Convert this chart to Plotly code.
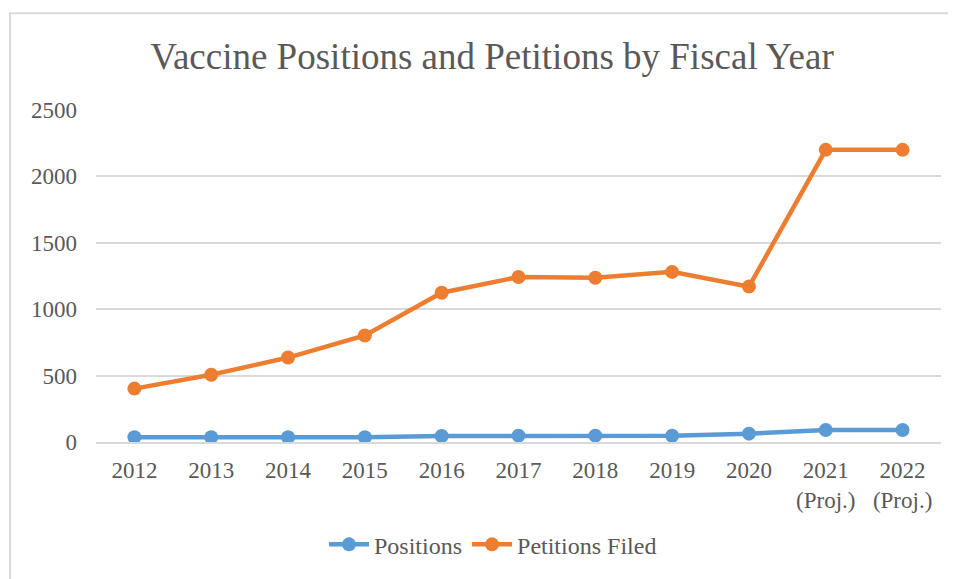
import plotly.graph_objects as go

categories = ["2012", "2013", "2014", "2015", "2016", "2017", "2018", "2019", "2020",
              "2021<br>(Proj.)", "2022<br>(Proj.)"]
positions = [36, 36, 36, 36, 45, 48, 48, 47, 63, 90, 90]
petitions = [402, 506, 636, 802, 1124, 1243, 1237, 1281, 1170, 2200, 2200]
y_ticks = [0, 500, 1000, 1500, 2000, 2500]

FONT = "Liberation Serif, Times New Roman, serif"
TXT = "#595959"

# page has an 8px body margin; the figure is sized/offset to compensate
W, H = 948, 571
L, R, T, B = 88, 15, 102, 133
PW, PH = W - L - R, H - T - B

fig = go.Figure()
fig.add_trace(go.Scatter(x=categories, y=positions, name="Positions", mode="lines+markers",
                         line=dict(color="#5B9BD5", width=4.5),
                         marker=dict(color="#5B9BD5", size=14)))
fig.add_trace(go.Scatter(x=categories, y=petitions, name="Petitions Filed", mode="lines+markers",
                         line=dict(color="#ED7D31", width=4.5),
                         marker=dict(color="#ED7D31", size=14)))

fig.update_layout(
    width=W, height=H,
    margin=dict(l=L, r=R, t=T, b=B),
    paper_bgcolor="white", plot_bgcolor="white",
    font=dict(family=FONT, color=TXT, size=23),
    title=dict(text="Vaccine Positions and Petitions by Fiscal Year",
               x=484 / W, xanchor="center", xref="container",
               y=1 - 48 / H, yanchor="middle", yref="container",
               font=dict(family=FONT, size=37, color=TXT)),
    showlegend=True,
    legend=dict(orientation="h", x=(485 - L) / PW, xanchor="center",
                y=(T + PH - 542) / PH, yanchor="middle",
                font=dict(family=FONT, size=24, color=TXT),
                itemwidth=40, tracegroupgap=0),
    hovermode=False,
    xaxis=dict(type="category", range=[-0.5, len(categories) - 0.5],
               showgrid=False, showline=True, linecolor="#D9D9D9", linewidth=1.5,
               ticks="", ticklabelstandoff=7, tickfont=dict(family=FONT, size=23, color=TXT),
               fixedrange=True),
    yaxis=dict(range=[0, 2500], tickvals=y_ticks, ticktext=[str(v) for v in y_ticks],
               showgrid=True, gridcolor="#D9D9D9", gridwidth=1.5, zeroline=False,
               showline=False, ticks="", ticklabelstandoff=18,
               tickfont=dict(family=FONT, size=23, color=TXT), fixedrange=True),
    shapes=[dict(type="rect", xref="paper", yref="paper",
                 x0=(2 - L) / PW, x1=(W + 20 - L) / PW,
                 y0=(T + PH - H - 30) / PH, y1=(T + PH - 4) / PH,
                 line=dict(color="#D9D9D9", width=2), fillcolor="rgba(0,0,0,0)", layer="below")],
)

fig.write_html("out.html")
